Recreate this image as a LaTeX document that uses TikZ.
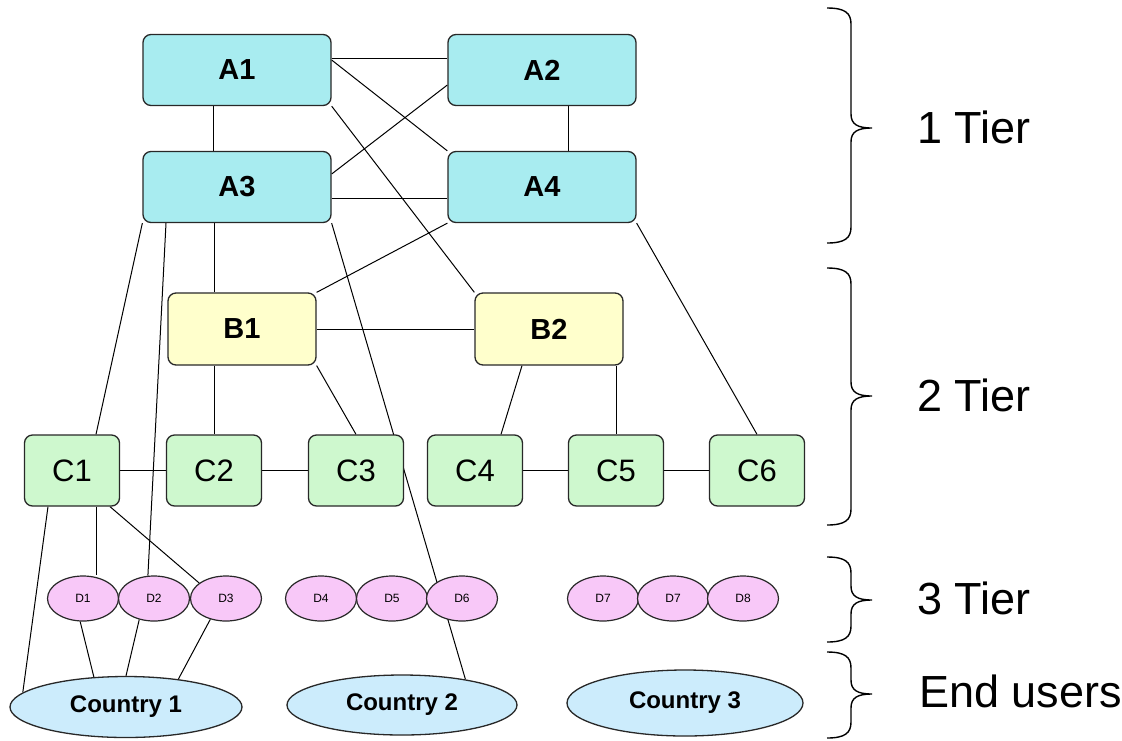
\documentclass[tikz,border=0pt]{standalone}
\usepackage{fontspec}
\setmainfont{Liberation Sans}
\usetikzlibrary{shapes.geometric,backgrounds}
\definecolor{acol}{RGB}{168,236,240}
\definecolor{bcol}{RGB}{255,255,204}
\definecolor{ccol}{RGB}{206,248,206}
\definecolor{dcol}{RGB}{248,200,248}
\definecolor{ecol}{RGB}{204,236,252}
\definecolor{bordercol}{RGB}{40,40,40}
\newcommand{\tierbrace}[3]{%
  \draw[bracestyle] (827,#1) .. controls (845,#1) and (851,#1+5) .. (851,#1+16)
    -- (851,#3-14) .. controls (851,#3-4) and (857,#3) .. (872,#3)
    .. controls (857,#3) and (851,#3+4) .. (851,#3+14)
    -- (851,#2-16) .. controls (851,#2-5) and (845,#2) .. (827,#2);}
\tikzset{
  boxbase/.style={draw=bordercol, line width=1.3pt, rounded corners=8pt, inner sep=0pt},
  abox/.style={boxbase, fill=acol, minimum width=188pt, minimum height=71pt, font=\fontsize{29}{31}\selectfont\bfseries},
  bbox/.style={boxbase, fill=bcol, minimum width=148pt, minimum height=72pt, font=\fontsize{29}{31}\selectfont\bfseries},
  cbox/.style={boxbase, fill=ccol, minimum width=95pt, minimum height=71pt, font=\fontsize{31}{33}\selectfont},
  dnode/.style={ellipse, draw=bordercol, line width=1.2pt, fill=dcol, minimum width=71pt, minimum height=45pt, inner sep=0pt, font=\fontsize{12}{13}\selectfont},
  enode/.style={ellipse, draw=bordercol, line width=1.3pt, fill=ecol, inner sep=0pt, font=\fontsize{24}{26}\selectfont\bfseries},
  link/.style={draw=black, line width=1pt},
  bracestyle/.style={draw=black, line width=1.4pt},
  tierlabel/.style={anchor=base west, inner sep=0pt, font=\fontsize{45}{48}\selectfont}
}
\begin{document}
\begin{tikzpicture}[x=1pt,y=-1pt]
\useasboundingbox (0,0) rectangle (1122,740);
% tier 1
\node[abox] (A1) at (237,70) {A1};
\node[abox] (A2) at (542,70) {A2};
\node[abox] (A3) at (237,187) {A3};
\node[abox] (A4) at (542,187) {A4};
% tier 2
\node[bbox] (B1) at (242,329) {B1};
\node[bbox] (B2) at (549,329) {B2};
\node[cbox] (C1) at (72,470.5) {C1};
\node[cbox] (C2) at (214,470.5) {C2};
\node[cbox] (C3) at (356,470.5) {C3};
\node[cbox] (C4) at (475,470.5) {C4};
\node[cbox] (C5) at (616,470.5) {C5};
\node[cbox] (C6) at (757,470.5) {C6};
% tier 3
\node[dnode] (D1) at (83,598.5) {D1};
\node[dnode] (D2) at (154,598.5) {D2};
\node[dnode] (D3) at (226,598.5) {D3};
\node[dnode] (D4) at (321,598.5) {D4};
\node[dnode] (D5) at (392,598.5) {D5};
\node[dnode] (D6) at (462,598.5) {D6};
\node[dnode] (D7) at (603,598.5) {D7};
\node[dnode] (D7b) at (673,598.5) {D7};
\node[dnode] (D8) at (743,598.5) {D8};
% end users
\node[enode, minimum width=232pt, minimum height=61pt] (E1) at (126,707) {Country 1};
\node[enode, minimum width=230pt, minimum height=60pt] (E2) at (402,705) {Country 2};
\node[enode, minimum width=236pt, minimum height=66pt] (E3) at (685,703) {Country 3};
% connectors
\begin{scope}[on background layer]
\fill[white] (0,0) rectangle (1122,740);
\draw[link] ([yshift=12pt]A1.east) -- ([yshift=12pt]A2.west);
\draw[link] ([xshift=-24pt]A1.south) -- ([xshift=-24pt]A3.north);
\draw[link] ([xshift=26pt]A2.south) -- ([xshift=26pt]A4.north);
\draw[link] ([yshift=-11pt]A3.east) -- ([yshift=-11pt]A4.west);
\draw[link] ([yshift=10pt]A1.east) -- (A4.north west);
\draw[link] ([yshift=-15pt]A2.west) -- ([yshift=13pt]A3.east);
\draw[link] (A1.south east) -- (B2.north west);
\draw[link] (A3.south west) -- ([xshift=24pt]C1.north);
\draw[link] ([xshift=-71pt]A3.south) -- (D2.105);
\draw[link] (A3.south east) -- (E2.22);
\draw[link] (A4.south west) -- (B1.north east);
\draw[link] (A4.south east) -- (C6.north);
\draw[link] ([xshift=-23pt]A3.south) -- ([xshift=-23pt]A3.south |- B1.north);
\draw[link] (B1.east) -- (B2.west);
\draw[link] (C2.north |- B1.south) -- (C2.north);
\draw[link] (B1.south east) -- (C3.north);
\draw[link] ([xshift=-27pt]B2.south) -- ([xshift=26pt]C4.north);
\draw[link] (C5.north |- B2.south) -- (C5.north);
\draw[link] (C1.east) -- (C2.west);
\draw[link] (C2.east) -- (C3.west);
\draw[link] (C4.east) -- (C5.west);
\draw[link] (C5.east) -- (C6.west);
\draw[link] ([xshift=-24pt]C1.south) -- (E1.172);
\draw[link] ([xshift=24pt]C1.south) -- ([xshift=13pt]D1.north);
\draw[link] ([xshift=38pt]C1.south) -- (D3.150);
\draw[link] (D1.263) -- (E1.137);
\draw[link] (D2.235) -- (E1.north);
\draw[link] (D3.233) -- (E1.28);
\end{scope}
% braces and tier labels
\tierbrace{8}{243}{128}
\tierbrace{268}{525}{396}
\tierbrace{557}{642}{600}
\tierbrace{652}{738}{694}
\node[tierlabel] (T1) at (917,143) {1 Tier};
\node[tierlabel] (T2) at (917,411) {2 Tier};
\node[tierlabel] (T3) at (917,614) {3 Tier};
\node[tierlabel] (T4) at (919,707) {End users};
\end{tikzpicture}
\end{document}
